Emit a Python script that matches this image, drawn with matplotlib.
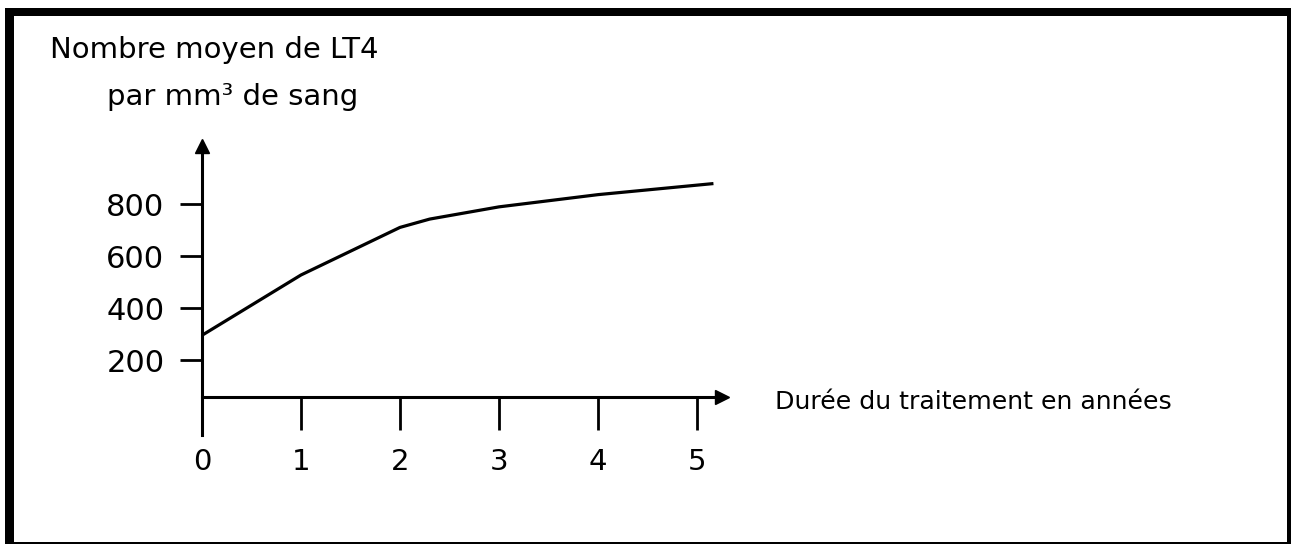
import matplotlib
matplotlib.use("Agg")
import matplotlib.pyplot as plt
from matplotlib.patches import Rectangle

# Données
annees = [0, 1, 2, 2.3, 3, 4, 5.15]
lt4 = [295, 527, 710, 742, 789, 836, 878]

x_ticks = [0, 1, 2, 3, 4, 5]
y_ticks = [200, 400, 600, 800]

W, H = 1291, 544
fig = plt.figure(figsize=(W / 100, H / 100), dpi=100)

# axes placés en pixels : 99 px par année, 0.26 px par unité en y
x_max = 5.25
y_min, y_max = -88, 1023
gauche, droite = 202, 202 + x_max * 99
bas, haut = 412 - 0.26 * y_min, 412 - 0.26 * y_max
ax = fig.add_axes([gauche / W, 1 - bas / H, (droite - gauche) / W, (bas - haut) / H])
ax.set_xlim(0, x_max)
ax.set_ylim(y_min, y_max)

# axes fléchés
axe_x = 58
for s in ["top", "right"]:
    ax.spines[s].set_visible(False)
ax.spines["left"].set_position(("data", 0))
ax.spines["bottom"].set_position(("data", axe_x))
ax.spines["left"].set_linewidth(2.2)
ax.spines["bottom"].set_linewidth(2.2)
ax.plot(x_max, axe_x, marker=">", color="black", markersize=10, clip_on=False)
ax.plot(0, y_max, marker="^", color="black", markersize=10, clip_on=False)

ax.plot(annees, lt4, color="black", linewidth=2.3)

ax.set_xticks(x_ticks)
ax.set_yticks(y_ticks)
ax.tick_params(axis="x", direction="out", length=24, width=2, pad=13, labelsize=21)
ax.tick_params(axis="y", direction="out", length=16, width=2, pad=11, labelsize=22)

# textes
fig.text(50 / W, 1 - 50 / H, "Nombre moyen de LT4", fontsize=21, va="center", ha="left")
fig.text(107 / W, 1 - 97 / H, "par mm³ de sang", fontsize=21, va="center", ha="left")
fig.text(775 / W, 1 - 402 / H, "Durée du traitement en années", fontsize=18.2, va="center", ha="left")

# cadre noir autour de l'image
for x0, y0, w, h in [(5, 8, 9, 536), (5, 8, 1286, 8), (1287, 8, 4, 536), (5, 542, 1286, 2)]:
    fig.add_artist(Rectangle((x0 / W, 1 - (y0 + h) / H), w / W, h / H,
                             transform=fig.transFigure, color="black", lw=0))

fig.savefig("out.png", dpi=100)
